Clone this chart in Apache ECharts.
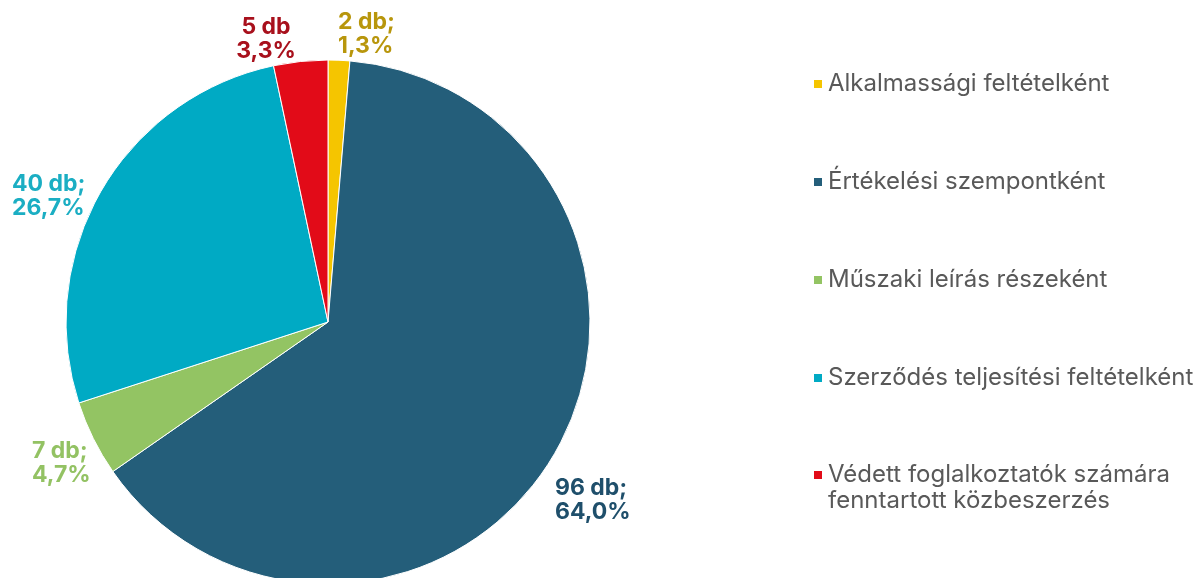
<!DOCTYPE html>
<html>
<head>
<meta charset="utf-8">
<script src="https://cdn.jsdelivr.net/npm/echarts@6/dist/echarts.min.js"></script>
<style>
  html, body { margin: 0; padding: 0; background: #fff; }
  #chart { width: 1198px; height: 578px; }
</style>
</head>
<body>
<div id="chart"></div>
<script>
// adatok
var categories = [
    'Alkalmassági feltételként',
    'Értékelési szempontként',
    'Műszaki leírás részeként',
    'Szerződés teljesítési feltételként',
    'Védett foglalkoztatók számára\nfenntartott közbeszerzés'
];
var counts = [2, 96, 7, 40, 5];
var separators = [';', ';', ';', ';', ''];

var sliceColors = ['#F5C500', '#245E7A', '#93C463', '#00AAC4', '#E20B18'];
var labelColors = ['#B8960C', '#1F4F6B', '#93C263', '#1BAEC3', '#A8101C'];
// címkék helye: [x, y, igazítás]
var labelPos = [
    [338, 34, 'left'],
    [555, 500, 'left'],
    [32, 463, 'left'],
    [12, 196, 'left'],
    [266, 39, 'center']
];

var total = counts.reduce(function (a, b) { return a + b; }, 0);

var chart = echarts.init(document.getElementById('chart'), null, { renderer: 'canvas' });

var legendText = {
    fontFamily: 'Inter',
    fontSize: 24,
    lineHeight: 26,
    color: '#595959'
};

chart.setOption({
    animation: false,
    legend: [{
        orient: 'vertical',
        left: 807,
        top: 66,
        itemWidth: 10,
        itemHeight: 10,
        itemGap: 72,
        icon: 'rect',
        selectedMode: false,
        data: categories.slice(0, 4),
        textStyle: legendText
    }, {
        orient: 'vertical',
        left: 807,
        top: 431,
        itemWidth: 10,
        itemHeight: 10,
        icon: 'rect',
        selectedMode: false,
        data: categories.slice(4),
        // üres első sor, hogy a jelölő az első sor mellé kerüljön
        formatter: function (name) { return '\n' + name; },
        textStyle: legendText
    }],
    series: [{
        type: 'pie',
        center: [328, 322],
        radius: 262,
        startAngle: 90,
        clockwise: true,
        avoidLabelOverlap: false,
        itemStyle: {
            borderColor: '#fff',
            borderWidth: 1
        },
        label: {
            show: true,
            position: 'outside',
            fontFamily: 'Inter',
            fontWeight: 'bold',
            fontSize: 23,
            lineHeight: 24,
            formatter: function (p) {
                var pct = (p.value / total * 100).toFixed(1).replace('.', ',');
                return p.value + ' db' + separators[p.dataIndex] + '\n' + pct + '%';
            }
        },
        labelLine: { show: false },
        labelLayout: function (params) {
            var lp = labelPos[params.dataIndex];
            return { x: lp[0], y: lp[1], align: lp[2], verticalAlign: 'middle' };
        },
        emphasis: { disabled: true },
        data: categories.map(function (name, i) {
            return {
                name: name,
                value: counts[i],
                itemStyle: { color: sliceColors[i] },
                label: { color: labelColors[i] }
            };
        })
    }]
});
</script>
</body>
</html>
